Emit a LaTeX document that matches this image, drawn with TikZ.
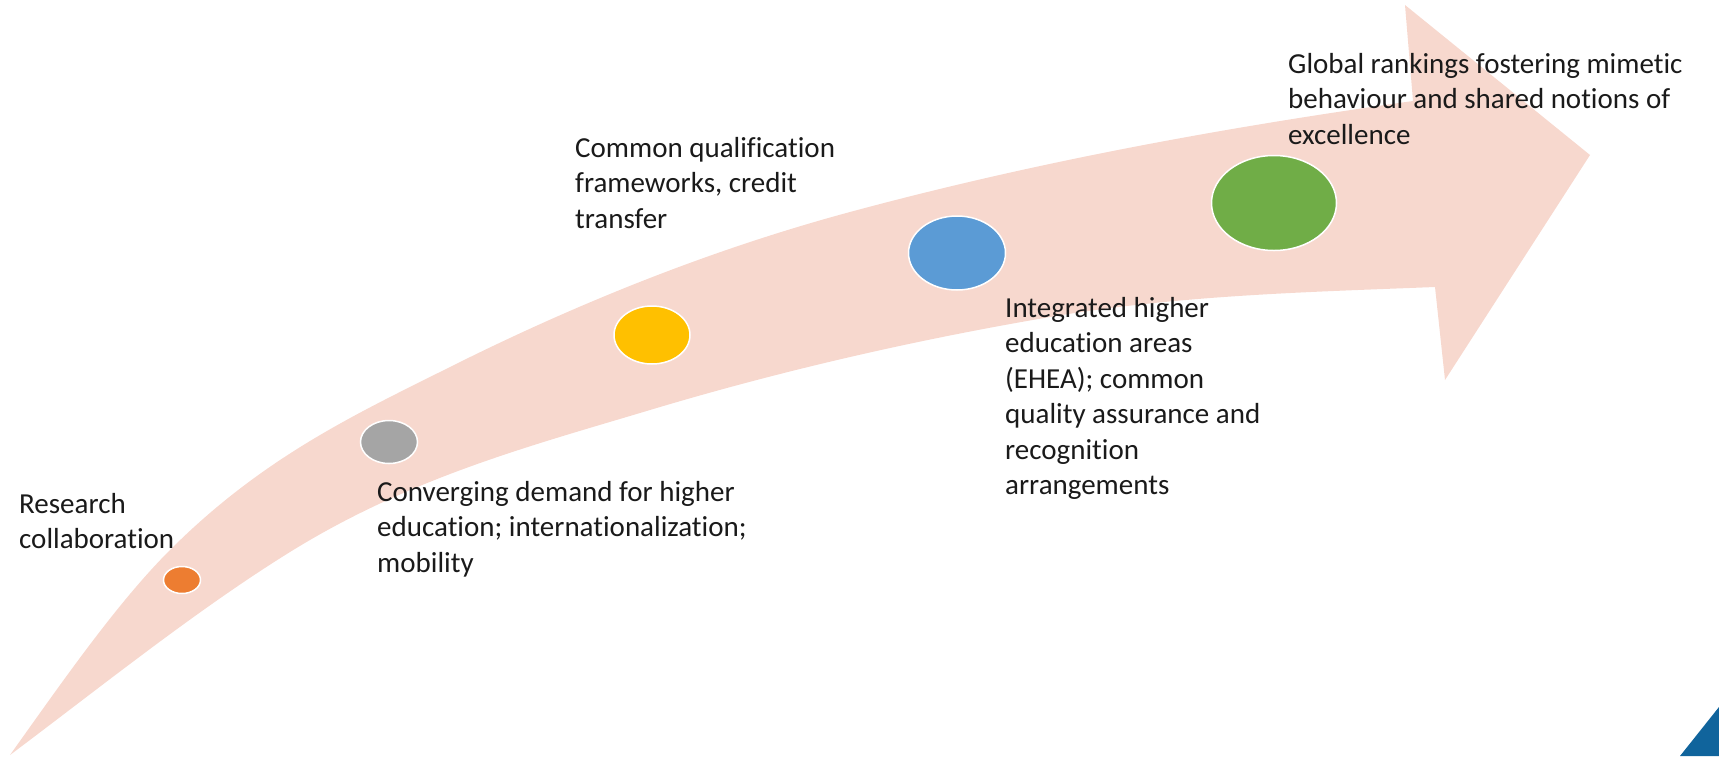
\documentclass[tikz,border=0pt]{standalone}
\usepackage{fontspec}
\setmainfont{Carlito}[Ligatures=NoCommon]
\usetikzlibrary{shapes.geometric}
\definecolor{arrowpink}{HTML}{F7D8CE}
\definecolor{dotorange}{HTML}{ED7D31}
\definecolor{dotgrey}{HTML}{A5A5A5}
\definecolor{dotyellow}{HTML}{FFC000}
\definecolor{dotblue}{HTML}{5B9BD5}
\definecolor{dotgreen}{HTML}{70AD47}
\definecolor{cornerblue}{HTML}{10649C}
\definecolor{txt}{HTML}{1A1A1A}
\tikzset{
  dot/.style={ellipse, draw=white, line width=1.5pt, inner sep=0pt},
  label text/.style={anchor=base west, inner sep=0pt, text=txt}
}
\newcommand{\lbl}[1]{\parbox[t]{14cm}{\fontsize{29}{35.5}\selectfont\raggedright #1}}
\begin{document}
\begin{tikzpicture}[x=1pt,y=-1pt]
\useasboundingbox (0,0) rectangle (1719,756);
% curved arrow
\fill[arrowpink]
  (10,755) .. controls (63.3,680.3) and (116.7,603.3) .. (170,550)
  .. controls (263.3,456.7) and (356.7,413.7) .. (450,367)
  .. controls (583.3,300.3) and (716.7,248) .. (850,212)
  .. controls (1037.7,161.3) and (1225.3,127.3) .. (1413,101)
  -- (1405,5) -- (1590,155) -- (1445,380) -- (1435,287)
  .. controls (1306.7,292.1) and (1178.3,295.2) .. (1050,317)
  .. controls (916.7,339.7) and (783.3,370) .. (650,410)
  .. controls (530,446) and (410,477.6) .. (290,552)
  .. controls (196.7,609.9) and (103.3,685) .. (10,755)
  -- cycle;
% corner triangle
\fill[cornerblue] (1719,707) -- (1719,756) -- (1680,756) -- cycle;
% dots
\node[dot, fill=dotorange, minimum width=37pt, minimum height=27pt] (d1) at (182,580) {};
\node[dot, fill=dotgrey, minimum width=57pt, minimum height=43pt] (d2) at (389,442) {};
\node[dot, fill=dotyellow, minimum width=76pt, minimum height=58pt] (d3) at (652,335) {};
\node[dot, fill=dotblue, minimum width=97pt, minimum height=74pt] (d4) at (957,253) {};
\node[dot, fill=dotgreen, minimum width=125pt, minimum height=95pt] (d5) at (1274,203) {};
% labels
\node[label text] (t1) at (19,513) {\lbl{Research\\collaboration}};
\node[label text] (t2) at (377,501) {\lbl{Converging demand for higher\\education; internationalization;\\mobility}};
\node[label text] (t3) at (575,157) {\lbl{Common qualification\\frameworks, credit\\transfer}};
\node[label text] (t4) at (1005,317) {\lbl{Integrated higher\\education areas\\(EHEA); common\\quality assurance and\\recognition\\arrangements}};
\node[label text] (t5) at (1288,73) {\lbl{Global rankings fostering mimetic\\behaviour and shared notions of\\excellence}};
\end{tikzpicture}
\end{document}
